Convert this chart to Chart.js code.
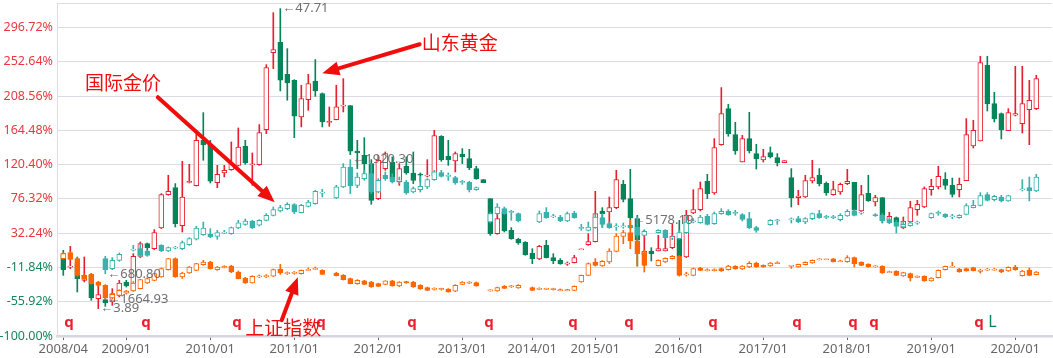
<!DOCTYPE html>
<html>
<head>
<meta charset="utf-8">
<title>山东黄金 / 国际金价 / 上证指数</title>
<script src="https://cdn.jsdelivr.net/npm/chart.js"></script>
<style>
    html, body { margin: 0; padding: 0; background: #fff; }
    canvas { display: block; }
</style>
</head>
<body>
<canvas id="kChart" width="1053" height="358"></canvas>

<script>
    // x axis: month slot index -> label (slots with no trading month are skipped)
    const xTickIdx  = [0, 9, 21, 33, 45, 57, 67, 76, 88, 100, 112, 124, 136];
    const xTickText = ['2008/04', '2009/01', '2010/01', '2011/01', '2012/01', '2013/01', '2014/01',
                       '2015/01', '2016/01', '2017/01', '2018/01', '2019/01', '2020/01'];
    const yTicks = [-100, -55.92, -11.84, 32.24, 76.32, 120.40, 164.48, 208.56, 252.64, 296.72];

    // monthly candles, change in % : [open, high, low, close]
    const sdhj = [ // 山东黄金
        [5.9,10.2,-22,-14.7], [-11.2,15.3,-13.4,-10.4], [-7,1.6,-43.4,-26.2], [-28.4,1.6,-30.5,-22],
        [-22,-19.8,-54.1,-51.1], [-52,-30.5,-64.8,-46.8], [-53.3,-49.8,-61.8,-57.1], [-56.3,-39.1,-60.6,-45.5],
        [-47.7,-28.4,-49.8,-31.8], [-30.5,-28.4,-37,-35.7], [-41.3,5.9,-42.1,2.5], [2.5,20.9,0.8,18.8],
        [18.8,19.6,5.9,13.6], [12.3,36.8,11.1,32.9], [38.9,83.1,38.1,81.8], [81.8,106.7,81,86.1],
        [90.8,96,40.2,44.5], [41.9,124.7,33.8,78.8], [97.7,120.8,96.8,98.5], [93.4,164.6,93,151.7],
        [151.7,187.3,126,145.7], [146.1,151.7,96.8,99], [97.3,119.5,90.8,108], [109.7,119.5,104.5,113.1],
        [114,149.6,113.1,122.5], [119.5,167.6,118.7,143.1], [144.4,151.7,120.8,122.5], [120.4,135.4,93.8,121.3],
        [120.4,171.9,119.5,161.6], [165.4,249,160.3,245.2], [264.5,315.9,243.9,268.3], [277.8,321.1,215.2,228.9],
        [236.6,269.6,203.2,225.5], [228.9,229.7,155.1,182.6], [181.7,222.5,168.9,205.3], [204,236.6,190.3,224.6],
        [228,255.5,208.3,215.2], [211.7,212.6,168.9,175.3], [174.9,194.6,169.7,175.7], [178.3,222.5,178,194.6],
        [195.9,231,188.2,196.7], [196.3,196.5,133.3,137.6], [138,151.7,115.3,135.4], [132.4,155.1,104.5,121.7],
        [121.7,126.8,69.4,74.5], [76.7,132.4,75.4,126], [115.3,136.7,113.1,134.6], [123.8,130.3,98.1,102.4],
        [98.1,121.7,93.8,115.3], [118.3,130.3,108,109.7], [109.7,136.7,96,100.2], [108,109.7,98.1,107.1],
        [105.8,126.8,104.5,106.7], [105.8,164.6,104.5,157.7], [156.9,157.7,124.7,126.8], [131.1,151.7,119.5,126.8],
        [125.1,136.7,111,134.6], [133.7,141,121.7,130.3], [128.1,140.1,114,116.1], [115.3,118.3,101.5,102.4],
        [101.1,101.1,97.3,97.3], [76.7,76.7,29.5,31.6], [31.6,57.4,30.8,50.9], [59.5,61.7,33.8,35.1],
        [35.9,39.4,24.4,25.2], [24.4,25.7,17.9,19.6], [20.5,21.4,3.8,4.6], [6.8,12.3,-7,-0.5],
        [-0.9,16.6,-1.8,15.3], [16.6,23.1,0.4,0.8], [0.8,5.9,-7,-3.1], [-2.7,-0.5,-7.8,-7],
        [-7.4,-4.8,-9.1,-6.5], [-5.7,3.8,-6.1,0.8], [11.1,11.9,11.1,11.9], [17.5,31.6,16.6,21.4],
        [21.4,86.1,20.9,57.4], [60.8,65.1,40.2,57.4], [59.5,78.8,44.5,65.1], [65.1,113.1,63.8,101.1],
        [95.1,100.2,72.4,75.8], [76.7,114.4,40.2,51.8], [50.9,55.2,-10,23.1], [4.6,35.9,-7,9.3],
        [9.3,13.6,-3.5,5.9], [9.3,29.5,9.3,12.3], [9.3,35.9,9.3,12.3], [13.6,43.6,12.3,28.6],
        [24.4,48.8,1.6,2.5], [1.6,61.7,0.8,55.2], [58.2,88.2,57.4,62.5], [62.5,98.1,60.8,89.5],
        [99,108,76.7,83.1], [84,153.8,82.2,142.3], [146.1,219.5,145.3,186], [192.4,198,156.9,160.3],
        [159,174.9,133.7,138], [123.8,158.1,123.8,153.8], [153.8,187.7,135.4,138], [134.6,146.6,114.8,127.7],
        [126.4,140.1,123.8,130.7], [135.8,143.1,129,130.3], [129.4,134.6,118.7,122.5], [123,125.5,123,125.5],
        [103.7,115.3,65.9,77.5], [78,87.4,68.9,80.1], [78.8,106.7,78,99.8], [99.4,126,96.8,103.7],
        [106.7,115.3,93,96], [96.4,98.1,81,84], [81.8,99,81,88.2], [85.2,96.8,82.2,95.1],
        [96,114.4,94.7,99], [97.7,97.7,60.8,61.7], [60.8,93.8,59.9,81.8], [83.5,106.7,73.2,73.7],
        [72.4,81,67.2,78], [78,78,45.4,48.8], [48.8,59.1,47.9,53.9], [52.2,53.1,45.4,46.6],
        [38.9,53.1,38.1,47.9], [46.6,73.2,45.8,65.1], [62.5,74.5,55.2,69.4], [65.9,91.7,65.1,89.5],
        [88.2,101.5,81,92.5], [91.7,118.3,89.1,105.4], [101.5,110.1,88.7,93.8], [93.8,103.2,78.8,82.2],
        [88.2,103.2,78.8,95.1], [99.8,179.6,99.8,159], [144.4,177.4,141.8,164.6], [150.8,259.8,150.8,251.6],
        [248.2,259.8,189.4,198.4], [198.9,213.5,175.3,179.1], [186,186.9,153.4,165], [164.1,192.4,164.1,187.3],
        [183.9,246.9,183,186], [173.1,246.9,161.1,198.9], [191.2,228.9,146.1,203.2], [192.4,235.3,191.2,231]
    ];

    const gjjj = [ // 国际金价
        null, null, null, null, null, null,
        [-0.5,2.5,-20,-14.7], [-13.4,0.8,-14.7,-2.7], [-2.7,6.8,-3.9,5.1], null,
        [10.6,16.6,9.3,11.5], [12.3,18.8,1.6,3.8], [9.3,10.2,2.5,3.8], null,
        [16.6,17.5,8.5,9.3], [9.3,14.5,8.5,13.6], [13.2,15.3,11.9,14.1], [12.3,22.2,11.1,20.1],
        [17.5,26.5,16.6,25.2], [24.4,41.1,23.5,38.9], [30.4,46.6,29.5,38.9], [30.8,38.1,26.5,27.4],
        [28.2,35.9,24.4,32.9], [32.5,35.9,31.6,33.4], [31.6,40.2,30.8,39.4], [38.9,48.8,38.1,45.4],
        [43.6,50.5,42.4,47.9], [47.5,48.8,38.1,39.4], [42.4,49.7,41.5,48.8], [48.8,57.4,47.9,55.2],
        [55.2,65.9,54.4,62.5], [60.8,68.1,59.5,65.1], [63.8,71.5,62.5,69.4], [68.9,70.2,57.4,59.5],
        [58.7,69.4,58.2,68.1], [66.8,74.5,65.9,72.4], [70.2,87.4,69.4,86.1], [84,88.7,78.8,84.8],
        null, [77.5,93.8,76.7,91.7], [91.7,121.7,90.8,117.4], [117.4,126.8,83.1,93],
        [93.8,109.7,90.8,104.5], [102.4,113.1,100.2,108.8], [108.8,121.7,83.1,85.2], [85.2,102.4,84,100.2],
        [106.7,111,100.2,102.4], [104.5,108.8,96.8,98.1], [99.8,104.5,96,100.6], [98.1,100.2,82.2,84],
        [85.2,91.7,84,89.5], [88.2,105.4,85.2,92.5], [91.7,102.4,89.5,101.1], [101.1,113.1,100.2,111],
        [110.1,113.1,104.5,105.4], [105.4,109.7,100.2,106.3], [103.7,105.4,95.1,96.8], [97.7,100.2,95.1,98.5],
        [97.7,99,85.2,88.2], [88.2,91.7,87.4,90.8], null, [46.6,59.5,45.4,57.4],
        [57.4,70.2,56.5,65.9], [63.8,65.9,56.5,57.4], [59.1,61.7,48.8,59.9], [57.4,58.2,46.6,47.9],
        null, null, [46.6,60.8,45.8,57.4], [59.1,65.1,51.4,52.2],
        [53.5,56.5,52.2,54.4], [53.1,55.2,47.1,47.9], [47.9,59.5,47.1,57.4], [58.2,60.4,51.4,52.2],
        [38.5,43.6,35.9,39.4], [35.9,46.6,35.1,40.2], [39.4,57.4,38.5,53.1], [52.2,57.4,39.4,43.6],
        [44.5,46.6,38.5,39.4], [40.6,44.5,35.9,41.5], [40.6,45.4,38.5,41.5], [42.4,44.5,38.1,38.9],
        [40.2,53.1,26.5,29.5], [29.5,36.8,28.6,34.6], null, [32.9,36.8,32.1,35.9],
        [35.9,36.8,25.7,26.5], [26.1,29.5,23.9,27], [25.2,35.9,24.4,32.9], [32.9,55.2,31.6,46.6],
        [47.1,50.9,45.4,47.9], [45.8,55.2,45,53.1], [53.9,56.5,42.8,43.6], [44.5,59.5,43.6,57.4],
        [57.4,63.8,56.5,60.4], [60.4,62.5,55.2,56.1], [57.8,61.7,55.2,58.7], [56.1,57.4,47.9,50.1],
        [50.9,59.1,38.1,38.9], [39.4,41.1,33.4,35.9], null, [43.2,49.7,42.4,48.8],
        [48.4,50.1,43.6,49.3], null, [49.7,51.8,45.4,50.5], [50.9,53.9,45.8,46.6],
        [46.6,52.2,44.5,50.9], [50.9,58.2,49.7,57.4], [57.4,61.7,51.4,52.2], [52.7,55.2,50.9,53.5],
        [52.6,55.2,50.9,53.4], [49.7,57.4,47.9,55.2], [54.4,62.5,53.9,60.4], [60.4,62.5,54.4,55.2],
        [58.2,60.8,56.5,59.1], null, [56.1,57.4,53.9,54.4], [55.2,57.4,46.6,47.9],
        [49.7,52.2,44.5,45.4], [46.6,48.8,32.5,41.1], [40.2,46.6,39.4,43.6], [41.9,46.6,41.1,45.4],
        [45.4,47.9,43.6,46.2], null, [52.2,58.2,51.4,57.4], [57.8,60.8,55.2,58.7],
        [56.5,57.4,52.2,53.1], [53.5,56.5,50.9,54.4], [52.2,56.1,51.4,55.2], [56.5,70.2,55.7,67.7],
        [65.1,74.5,64.7,68.1], [68.1,84.4,67.2,80.5], [81.8,84.4,73.7,74.5], [75.4,81,73.7,79.7],
        [78.8,81,72.4,73.7], [73.7,81,73.2,80.5], null, [88.2,101.1,86.5,89.1],
        [90.8,104.5,73.7,86.5], [86.5,108,85.7,104.5]
    ];

    const szzs = [ // 上证指数
        [-0.5,7.2,-1.4,5.9], [7.2,8.1,-2.2,-1.4], [-0.5,0.8,-23.2,-22], [-22,-20.7,-27.5,-26.2],
        [-20.7,-19.8,-33.5,-32.7], [-30.5,-29.7,-36.1,-34.8], [-34.8,-33.9,-52.8,-51.1], [-51,-44.6,-52.2,-46.4],
        [-47.7,-40.5,-48.5,-41.3], [-45,-41.3,-46,-42.1], [-42.1,-30,-42.5,-31.8], [-39.1,-27,-39.5,-27.5],
        [-31.8,-25,-32.5,-26.2], [-28.4,-19,-29,-19.8], [-24.1,-12.5,-24.5,-13.4], [-14.7,-0.2,-15.2,-0.5],
        [-0.5,0.5,-24.5,-24.1], [-24.1,-18,-26,-19], [-19,-10.5,-19.5,-11.2], [-15.5,-6.5,-16,-7],
        [-8.2,-2.7,-9.1,-4.8], [-4.8,-4,-14,-13.4], [-14.7,-10.5,-15.5,-11.2], [-11.7,-9.5,-12.5,-10.8],
        [-10,-9,-18.5,-17.7], [-17.7,-16.5,-26.5,-26.2], [-25.4,-24.5,-32.5,-31.8], [-31.8,-22.5,-32,-23.2],
        [-23.6,-21.5,-25,-23.2], [-23.2,-21,-25,-22.8], [-23.2,-13.8,-23.6,-14.7], [-13.8,-7.8,-20.7,-19],
        [-19.4,-17.5,-21,-19], [-19,-17,-20.5,-18.6], [-19.8,-15,-20.5,-15.5], [-15,-12.5,-15.5,-14.7],
        [-13.8,-11.2,-14.2,-13.4], [-15.5,-14.7,-21,-20.7], null, [-19,-18,-22.8,-22.4],
        [-22,-21,-28,-27.5], [-26.2,-25.4,-33,-32.7], [-32.7,-27.5,-33.5,-28.4], [-29.2,-28.4,-34,-33.5],
        [-30.5,-29.7,-37.5,-37], [-32.7,-32,-36.5,-36.1], [-33.5,-29,-34,-29.2], [-29.2,-28.4,-36,-35.7],
        [-35.7,-30,-36.5,-30.5], [-30.1,-29.5,-32.2,-31.8], [-30.5,-29.7,-37.5,-37], [-34.8,-34,-40,-39.5],
        [-37.8,-37,-41.7,-41.3], [-39.5,-38,-41,-39.1], [-39.5,-38.5,-41,-39.5], [-39.5,-39,-43.8,-43.4],
        [-42.5,-34,-43,-34.8], [-33.5,-30,-34,-30.5], [-31.4,-30,-32.5,-31], [-31.4,-30.5,-36,-35.7],
        null, [-41.7,-40.5,-42.5,-40.8], [-42.1,-37,-42.5,-37.8], [-36.1,-35,-39,-38.7],
        [-36.5,-35,-37.5,-36.1], [-38.3,-34,-38.7,-34.8], null, [-37.8,-37,-41.7,-41.3],
        [-39.5,-38,-40.5,-39.1], [-39.5,-38.5,-40.5,-39.1], [-39.7,-38.5,-41,-39.5], [-41.3,-39.5,-42,-41],
        [-41.3,-40,-42,-41], [-41.3,-35.5,-41.7,-36.1], [-30.5,-21.5,-31,-22], [-22,-6,-22.4,-7],
        [-4.8,-0.5,-10,-9.1], [-10,-3,-10.5,-3.9], [-4.8,12.3,-6.8,9.3], [8.9,31.6,8.1,28.6],
        [28.2,35.9,18.8,32.9], [32.9,48.8,12.3,22.2], [22.2,25.2,-10,5.9], [7.2,10.2,-17.7,-9.1],
        null, [-9.5,-2,-10,-2.7], [-4.8,0.5,-5.5,-0.1], [-0.5,3.5,-1,2.5],
        [2.5,3.5,-23,-22], [-20.9,-18,-23,-20.5], [-22,-12.5,-22.5,-13.4], [-12.5,-11.7,-16,-15.5],
        [-15.5,-13.5,-16.5,-15.1], [-15.3,-13.5,-16.5,-15], [-13.4,-12.5,-17,-16.4], [-14.7,-9,-15.2,-10],
        [-10.4,-9.5,-14,-13.8], [-13.8,-9.5,-14.5,-10], [-11.2,-4.4,-12.1,-6.5], [-6.1,-5,-11.7,-11.2],
        [-9.1,-8.5,-11.6,-11.2], [-10,-5.5,-10.5,-6.1], [-6.3,-4.5,-7,-6], null,
        [-10,-9.8,-13,-9.6], [-11.2,-7.5,-11.6,-7.8], [-8.2,-4.5,-8.6,-5.2], [-6.1,-2.2,-6.5,-2.7],
        [-1.6,-0.5,-2.2,-1.2], [-1.4,-1.2,-1.6,-1.2], [-0.9,-0.2,-4.8,-4.4], [-4,-2.5,-4.5,-3.8],
        [-4.4,3.3,-5.2,0.8], [0.8,1.6,-11.2,-7], [-5.2,-4.5,-9.5,-9.1], [-7.8,-7,-11.6,-11.2],
        [-10.5,-9.5,-11.5,-10.4], [-10.4,-9.5,-19.5,-19], [-17.9,-16.5,-18.5,-17.7], [-16.8,-16,-22.4,-22],
        [-22.8,-18,-23.2,-18.5], [-19.8,-19,-29.2,-25.4], [-24.2,-22.5,-25,-23.9], [-23.2,-22.5,-29.6,-29.2],
        [-29.2,-25,-29.6,-25.4], [-25,-15,-25.4,-15.5], [-14.7,-10,-15.1,-10.4], [-10.8,-5.2,-11.2,-10.6],
        [-13.8,-13,-18,-17.7], [-13.4,-12.5,-16.8,-16.4], [-12.1,-11.5,-16.4,-16], [-16.2,-14,-19,-16],
        [-14.7,-13,-15.5,-14.5], [-14.7,-13,-15.5,-14.5], [-14.7,-14,-18.5,-17.7], [-16.4,-11,-17,-11.7],
        [-11.2,-9.1,-15.5,-14.7], [-22.4,-15.5,-23,-16.4], [-15.5,-12.5,-22.5,-22], [-21.1,-17,-21.5,-17.7]
    ];

    // event letters under the candles (slot index)
    const qMarks = [0, 11, 24, 36, 49, 60, 72, 80, 92, 104, 112, 115, 130];
    const lMarks = [132];

    // max / min price labels: [series, slot, 'h' or 'l', text]
    const extremes = [
        ['sdhj', 31, 'h', '←47.71'], ['sdhj', 5, 'l', '←3.89'],
        ['gjjj', 6, 'l', '←680.80'], ['gjjj', 41, 'h', '←1920.30'],
        ['szzs', 6, 'l', '←1664.93'], ['szzs', 81, 'h', '←5178.19']
    ];

    // hand drawn callouts, in (slot, %) coordinates
    const callouts = [
        { text: '山东黄金', at: [51.2, 276.5], from: [50.9, 275.2], to: [37.0, 237.9] },
        { text: '国际金价', at: [3.1, 225.1],  from: [13.5, 207.1], to: [30.2, 72.0] },
        { text: '上证指数', at: [26.0, -88.8], from: [31.2, -79.7], to: [33.5, -24.5] }
    ];

    const RED = '#e8202e', GREEN = '#06855a', TEAL = '#38b2ab', ORANGE = '#ff6600';
    const seriesRows = { sdhj, gjjj, szzs };

    function candleSets(name, rows, upCol, downCol, order) {
        const wick = [], body = [];
        rows.forEach((r, i) => {
            if (!r) return;
            const [o, h, l, c] = r;
            const up = c >= o;
            let lo = Math.min(o, c), hi = Math.max(o, c);
            if (hi - lo < 1.4) { const m = (hi + lo) / 2; lo = m - 0.7; hi = m + 0.7; }
            wick.push({ x: i, y: [l, h], col: up ? upCol : downCol });
            body.push({ x: i, y: [lo, hi], col: up ? upCol : downCol, up });
        });
        return [{
            label: name + ' wick',
            data: wick.map(d => ({ x: d.x, y: d.y })),
            backgroundColor: wick.map(d => d.col),
            barThickness: 1,
            grouped: false,
            order: order + 1
        }, {
            label: name,
            data: body.map(d => ({ x: d.x, y: d.y })),
            backgroundColor: body.map(d => d.up ? '#ffffff' : d.col),
            borderColor: body.map(d => d.col),
            borderWidth: 1,
            borderSkipped: false,
            barThickness: 5,
            grouped: false,
            order: order
        }];
    }

    const notes = {
        id: 'notes',
        afterDatasetsDraw(chart) {
            const { ctx, scales: { x, y } } = chart;
            ctx.save();

            ctx.font = 'bold 15px "Noto Sans", sans-serif';
            ctx.textAlign = 'left';
            ctx.textBaseline = 'alphabetic';
            ctx.fillStyle = RED;
            qMarks.forEach(i => ctx.fillText('q', x.getPixelForValue(i) + 1, y.getPixelForValue(-88.8)));
            ctx.font = '16px "Noto Sans", sans-serif';
            ctx.fillStyle = GREEN;
            lMarks.forEach(i => ctx.fillText('L', x.getPixelForValue(i) + 1, y.getPixelForValue(-88.8)));

            ctx.font = '13px "Noto Sans", sans-serif';
            ctx.fillStyle = '#707070';
            ctx.textBaseline = 'middle';
            extremes.forEach(([s, i, k, t]) => {
                const r = seriesRows[s][i];
                const v = k === 'h' ? r[1] : r[2];
                ctx.fillText(t, x.getPixelForValue(i) + 2, y.getPixelForValue(v));
            });

            callouts.forEach(c => {
                const x0 = x.getPixelForValue(c.from[0]), y0 = y.getPixelForValue(c.from[1]);
                const x1 = x.getPixelForValue(c.to[0]), y1 = y.getPixelForValue(c.to[1]);
                const ang = Math.atan2(y1 - y0, x1 - x0);
                const head = 17, half = 7;
                const bx = x1 - head * Math.cos(ang), by = y1 - head * Math.sin(ang);
                ctx.strokeStyle = '#f20d0d';
                ctx.fillStyle = '#f20d0d';
                ctx.lineWidth = 4;
                ctx.lineCap = 'round';
                ctx.beginPath();
                ctx.moveTo(x0, y0);
                ctx.lineTo(bx, by);
                ctx.stroke();
                ctx.beginPath();
                ctx.moveTo(x1, y1);
                ctx.lineTo(bx + half * Math.sin(ang), by - half * Math.cos(ang));
                ctx.lineTo(bx - half * Math.sin(ang), by + half * Math.cos(ang));
                ctx.closePath();
                ctx.fill();

                ctx.font = '19px "Noto Sans CJK SC", sans-serif';
                ctx.textBaseline = 'middle';
                ctx.fillText(c.text, x.getPixelForValue(c.at[0]), y.getPixelForValue(c.at[1]));
            });
            ctx.restore();
        }
    };

    const ctx = document.getElementById('kChart').getContext('2d');
    new Chart(ctx, {
        type: 'bar',
        data: {
            datasets: [
                ...candleSets('山东黄金', sdhj, RED, GREEN, 5),
                ...candleSets('国际金价', gjjj, TEAL, TEAL, 3),
                ...candleSets('上证指数', szzs, ORANGE, ORANGE, 1)
            ]
        },
        options: {
            responsive: false,
            animation: false,
            layout: { padding: { top: 3, right: 1, left: 0, bottom: 0 } },
            plugins: { legend: { display: false }, tooltip: { enabled: false } },
            scales: {
                x: {
                    type: 'linear',
                    min: -0.9,
                    max: 141.24,
                    offset: false,
                    afterBuildTicks: s => { s.ticks = xTickIdx.map(v => ({ value: v })); },
                    afterFit: s => { s.height = 22; s.paddingLeft = 0; s.paddingRight = 0; },
                    ticks: {
                        autoSkip: false,
                        maxRotation: 0,
                        padding: 1,
                        color: '#666',
                        font: { family: '"Noto Sans", sans-serif', size: 13 },
                        callback: (v, i) => xTickText[i]
                    },
                    grid: { offset: false, drawOnChartArea: false, tickLength: 4, color: '#666' },
                    border: { color: '#d6d6dc', width: 2.5 }
                },
                y: {
                    min: -100,
                    max: 328.3,
                    afterBuildTicks: s => { s.ticks = yTicks.concat([328.3]).map(v => ({ value: v })); },
                    afterFit: s => { s.width = 57; s.paddingTop = 0; s.paddingBottom = 0; },
                    ticks: {
                        padding: 4,
                        font: { family: '"Noto Sans", sans-serif', size: 12.5 },
                        color: c => c.tick.value < 0 ? '#15885a' : '#e8383d',
                        callback: v => v > 300 ? '' : v.toFixed(2) + '%'
                    },
                    grid: { drawTicks: false, color: '#dcdce4' },
                    border: { color: '#dcdce4' }
                }
            }
        },
        plugins: [notes]
    });
</script>
</body>
</html>
